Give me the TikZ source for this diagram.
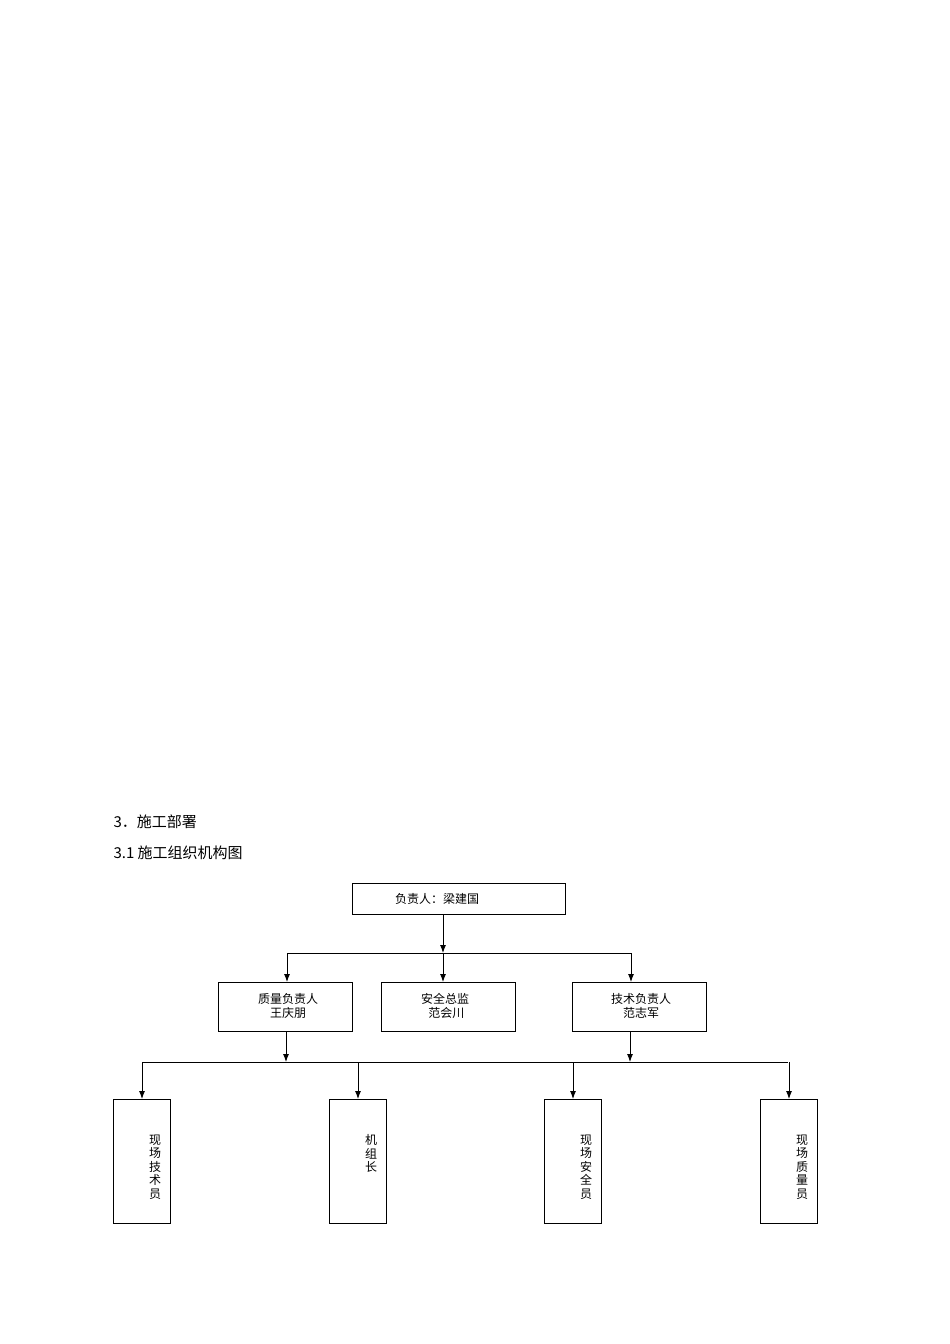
\documentclass[tikz,border=0pt]{standalone}
\usepackage{fontspec}
\setmainfont{Noto Sans CJK SC}
\usetikzlibrary{arrows.meta}
\begin{document}
\begin{tikzpicture}[x=1pt,y=-1pt,
  box/.style={draw,line width=0.9pt,inner sep=0pt},
  lbl/.style={font=\fontsize{12}{14}\selectfont,align=center},
  vlbl/.style={font=\fontsize{12}{13.5}\selectfont,align=center,anchor=north},
  head/.style={font=\fontsize{15}{18}\selectfont,anchor=west},
  arr/.style={line width=0.9pt,-{Latex[length=8pt,width=6pt]}},
  ln/.style={line width=0.9pt}]
\useasboundingbox (0,0) rectangle (950,1344);
\node[head] (h1) at (110,822) {3．施工部署};
\node[head] (h2) at (110,853) {3.1 施工组织机构图};
\draw[box] (352,883) rectangle (565,914);
\node[lbl] (top) at (437,899) {负责人：梁建国};
\coordinate (topb) at (443,914);
\draw[box] (218,982) rectangle (352,1031);
\draw[box] (381,982) rectangle (515,1031);
\draw[box] (572,982) rectangle (706,1031);
\node[lbl] (m1) at (288,1006) {质量负责人\\王庆朋};
\node[lbl] (m2) at (445,1006) {安全总监\\\ 范会川};
\node[lbl] (m3) at (641,1006) {技术负责人\\范志军};
\coordinate (j1) at (443,953);
\coordinate (l1) at (287,953);
\coordinate (r1) at (631,953);
\draw[arr] (topb) -- (j1);
\draw[ln] (l1) -- (r1);
\draw[arr] (l1) -- (287,982);
\draw[arr] (j1) -- (443,982);
\draw[arr] (r1) -- (631,982);
\coordinate (a2) at (286,1062);
\coordinate (b2) at (630,1062);
\draw[arr] (286,1031) -- (a2);
\draw[arr] (630,1031) -- (b2);
\draw[ln] (142,1062) -- (788,1062);
\foreach \x/\t [count=\i] in {113/现\\场\\技\\术\\员, 329/机\\组\\长, 544/现\\场\\安\\全\\员, 760/现\\场\\质\\量\\员}{
  \draw[box] (\x,1099) rectangle (\x+57,1223);
  \draw[arr] (\x+29,1062) -- (\x+29,1099);
  \node[vlbl] (b\i) at (\x+42,1131) {\t};
}
\end{tikzpicture}
\end{document}
